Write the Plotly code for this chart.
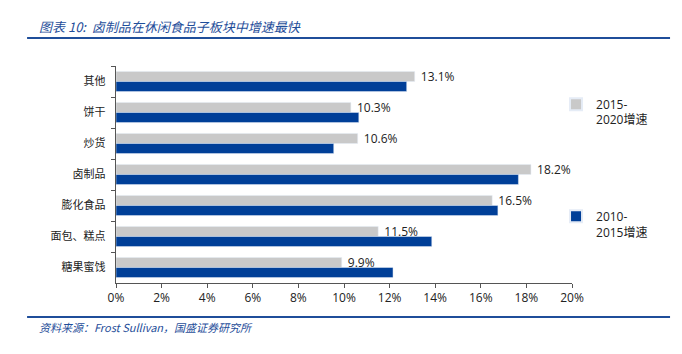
import plotly.graph_objects as go

categories = ["其他", "饼干", "炒货", "卤制品", "膨化食品", "面包、糕点", "糖果蜜饯"]
growth_2015_2020 = [13.1, 10.3, 10.6, 18.2, 16.5, 11.5, 9.9]
growth_2010_2015 = [12.75, 10.65, 9.55, 17.65, 16.75, 13.85, 12.15]
labels_2015_2020 = ["13.1%", "10.3%", "10.6%", "18.2%", "16.5%", "11.5%", "9.9%"]
x_ticks = [0, 2, 4, 6, 8, 10, 12, 14, 16, 18, 20]
x_tick_labels = ["0%", "2%", "4%", "6%", "8%", "10%", "12%", "14%", "16%", "18%", "20%"]

GRAY = "#C9C9C9"
BLUE = "#003F98"
LINE_BLUE = "#1F4E9A"

fig = go.Figure()
fig.add_trace(go.Bar(
    y=categories, x=growth_2015_2020, orientation="h",
    name="2015-<br>2020增速", marker=dict(color=GRAY),
    legendgroup="a", legendrank=1,
    text=labels_2015_2020, texttemplate="\u00a0%{text}",
    textposition="outside", constraintext="none",
    textfont=dict(size=12, color="#222222", family="Open Sans, Verdana, sans-serif"),
    cliponaxis=False, hoverinfo="skip",
))
fig.add_trace(go.Bar(
    y=categories, x=growth_2010_2015, orientation="h",
    name="2010-<br>2015增速", marker=dict(color=BLUE),
    legendgroup="b", legendrank=2,
    hoverinfo="skip",
))

fig.update_layout(
    width=682, height=354,
    margin=dict(l=116, r=110, t=66, b=71, autoexpand=False),
    paper_bgcolor="white", plot_bgcolor="white",
    barmode="group", bargap=0.35, bargroupgap=0,
    showlegend=True,
    legend=dict(
        x=0.965, y=0.89, xanchor="left", yanchor="top",
        traceorder="grouped", tracegroupgap=78,
        font=dict(size=12, color="#222222", family="Open Sans, Noto Sans CJK SC, sans-serif"),
        itemwidth=30, itemsizing="constant", valign="top",
        bgcolor="rgba(0,0,0,0)",
    ),
    xaxis=dict(
        range=[0, 20], tickvals=x_ticks, ticktext=x_tick_labels,
        showgrid=False, zeroline=False,
        showline=True, linecolor="#555555", linewidth=1,
        ticks="outside", ticklen=4, tickcolor="#555555",
        tickfont=dict(size=12, color="#222222", family="Open Sans, Verdana, sans-serif"),
    ),
    yaxis=dict(
        categoryorder="array", categoryarray=categories, autorange="reversed",
        showgrid=False, zeroline=False,
        showline=True, linecolor="#555555", linewidth=1,
        ticks="outside", ticklen=4, tickcolor="#555555", tickson="boundaries",
        tickfont=dict(size=11, color="#222222", family="Noto Sans CJK SC"),
        ticksuffix="   ",
    ),
    shapes=[
        dict(type="line", xref="paper", yref="paper", x0=-0.195, x1=1.215, y0=1.129, y1=1.129,
             line=dict(color=LINE_BLUE, width=2)),
        dict(type="line", xref="paper", yref="paper", x0=-0.195, x1=1.215, y0=-0.157, y1=-0.157,
             line=dict(color=LINE_BLUE, width=2)),
    ],
    annotations=[
        dict(text="图表 10:  卤制品在休闲食品子板块中增速最快", xref="paper", yref="paper",
             x=-0.173, y=1.184, xanchor="left", yanchor="middle", showarrow=False,
             font=dict(size=13, color=LINE_BLUE, family="Noto Sans CJK SC", style="italic")),
        dict(text="资料来源：Frost Sullivan，国盛证券研究所", xref="paper", yref="paper",
             x=-0.173, y=-0.203, xanchor="left", yanchor="middle", showarrow=False,
             font=dict(size=11, color=LINE_BLUE, family="Noto Sans CJK SC", style="italic")),
    ],
)

fig.write_html("out.html")
